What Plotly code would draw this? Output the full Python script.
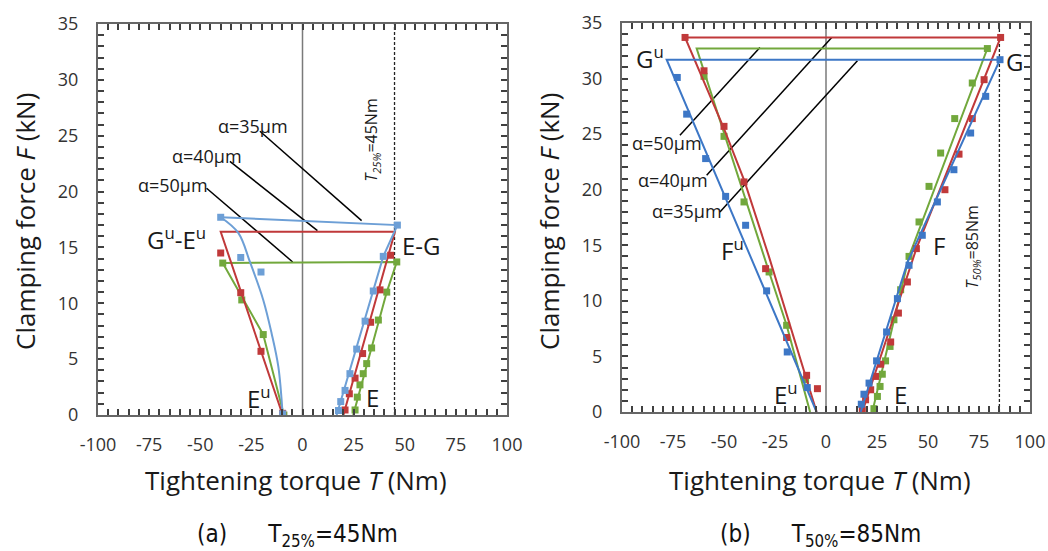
import plotly.graph_objects as go

# ---------------- data ----------------
# Panel (a) T25% = 45 Nm
a35_fit_T = [-9.7, -11.8, -15.1, -19.2, -25.7, -31.4, -40.0, 46.4, 39.5, 16.7]
a35_fit_F = [0.0, 4.3, 7.3, 10.3, 13.7, 16.3, 17.7, 17.0, 14.2, 0.0]
a35_pts_T = [-40.0, -30.2, -20.3, -9.7, 46.4, 39.5, 34.6, 30.6, 26.5, 23.2, 20.8, 18.7, 17.6]
a35_pts_F = [17.7, 14.1, 12.8, 0.1, 17.0, 14.2, 11.1, 8.4, 5.9, 3.7, 2.2, 1.2, 0.4]

a40_fit_T = [-9.7, -40.0, 45.2, 20.0]
a40_fit_F = [0.0, 16.4, 16.4, 0.0]
a40_pts_T = [-9.7, -20.3, -30.2, -40.0, 43.1, 37.9, 33.3, 29.4, 25.7, 22.9, 20.8]
a40_pts_F = [0.15, 5.7, 10.95, 14.5, 14.3, 11.2, 8.3, 5.5, 3.3, 1.9, 0.45]

a50_fit_T = [-9.1, -19.2, -39.0, 46.1, 41.2, 24.8]
a50_fit_F = [0.0, 7.2, 13.6, 13.7, 11.0, 0.0]
a50_pts_T = [-9.1, -19.2, -29.7, -39.0, 46.1, 41.2, 37.1, 33.8, 31.4, 29.7, 28.1, 26.8, 25.7]
a50_pts_F = [0.0, 7.2, 10.3, 13.6, 13.7, 11.0, 8.5, 6.0, 4.6, 3.7, 2.7, 1.6, 0.45]

# Panel (b) T50% = 85 Nm
b35_fit_T = [-4.6, -78.1, 85.3, 40.0, 17.0]
b35_fit_F = [0.0, 31.7, 31.7, 13.5, 0.0]
b35_pts_T = [-72.9, -68.3, -59.0, -49.2, -39.4, -29.1, -19.0, -9.2,
             85.3, 78.3, 70.9, 62.7, 54.6, 47.2, 40.7, 35.0, 29.7, 24.8, 21.1, 18.6, 17.3]
b35_pts_F = [30.1, 26.8, 22.8, 19.4, 16.8, 10.9, 5.4, 2.2,
             31.7, 28.4, 25.1, 21.8, 18.9, 15.9, 13.2, 10.2, 7.2, 4.6, 2.6, 1.6, 0.7]

b40_fit_T = [-4.6, -28.0, -40.0, -50.0, -69.1, 85.6, 44.3, 17.8]
b40_fit_F = [0.0, 14.0, 20.8, 25.5, 33.7, 33.7, 14.7, 0.0]
b40_pts_T = [-69.1, -59.8, -50.0, -40.2, -29.6, -19.3, -9.5, -4.2,
             85.6, 77.5, 71.7, 65.2, 58.3, 44.3, 39.9, 35.5, 31.7, 26.8, 24.3, 21.9, 19.4, 17.8]
b40_pts_F = [33.7, 30.7, 25.7, 20.7, 12.9, 6.7, 3.3, 2.1,
             33.7, 29.9, 26.4, 23.2, 20.0, 14.7, 11.7, 8.9, 6.3, 4.3, 3.2, 2.0, 1.1, 0.2]

b50_fit_T = [-7.8, -19.3, -27.9, -63.4, 79.1, 40.7, 22.7]
b50_fit_F = [0.0, 7.8, 12.6, 32.7, 32.7, 14.0, 0.0]
b50_pts_T = [-59.8, -50.0, -40.2, -27.9, -19.3, -10.0,
             79.1, 71.7, 63.1, 56.2, 50.5, 45.6, 40.7, 36.6, 33.3, 31.4, 29.2, 27.6, 26.5, 25.2, 23.5]
b50_pts_F = [30.2, 24.8, 18.9, 12.6, 7.8, 2.9,
             32.7, 29.6, 26.4, 23.3, 20.3, 17.1, 14.0, 11.0, 8.3, 5.9, 4.6, 3.4, 2.3, 1.4, 0.3]

# leader lines  [T_start, F_start, T_end, F_end]
a_leaders = {"α=35μm": [-20.8, 25.4, 28.9, 17.4],
             "α=40μm": [-35.5, 22.7, 7.3, 16.5],
             "α=50μm": [-46.9, 20.3, -4.8, 13.7]}
b_leaders = {"α=50μm": [-71.6, 24.9, -32.4, 32.8],
             "α=40μm": [-58.5, 21.3, 2.8, 33.7],
             "α=35μm": [-52.0, 18.0, 15.4, 31.6]}

x_ticks = [-100, -75, -50, -25, 0, 25, 50, 75, 100]
y_ticks = [0, 5, 10, 15, 20, 25, 30, 35]
x_minor_step = 5
y_minor_step = 1
T_limit_a = 45
T_limit_b = 85

# ---------------- styling ----------------
RED = "#c0393a"
GREEN = "#72a83c"
BLUE_A = "#6d9fd6"
BLUE_B = "#3d77c6"
W, H = 1048, 551
FONT = "Open Sans, Noto Sans, sans-serif"
TICKC = "#404040"

fig = go.Figure()


def add_line(xa, ya, T, F, color, shape="linear"):
    fig.add_trace(go.Scatter(x=T, y=F, mode="lines", xaxis=xa, yaxis=ya,
                             line=dict(color=color, width=2, shape=shape, smoothing=1.0),
                             showlegend=False, hoverinfo="skip"))


def add_pts(xa, ya, T, F, color):
    fig.add_trace(go.Scatter(x=T, y=F, mode="markers", xaxis=xa, yaxis=ya,
                             marker=dict(symbol="square", size=7, color=color),
                             showlegend=False))


def add_leaders(xa, ya, leaders):
    for k, (t0, f0, t1, f1) in leaders.items():
        fig.add_trace(go.Scatter(x=[t0, t1], y=[f0, f1], mode="lines", xaxis=xa, yaxis=ya,
                                 line=dict(color="black", width=1.5), showlegend=False,
                                 hoverinfo="skip"))


def add_vlines(xa, ya, tlim):
    fig.add_trace(go.Scatter(x=[0, 0], y=[y_ticks[0], y_ticks[-1]], mode="lines",
                             xaxis=xa, yaxis=ya, line=dict(color="#7a7a7a", width=1.5),
                             showlegend=False, hoverinfo="skip"))
    fig.add_trace(go.Scatter(x=[tlim, tlim], y=[y_ticks[0], y_ticks[-1]], mode="lines",
                             xaxis=xa, yaxis=ya,
                             line=dict(color="#222222", width=1.3, dash="3px,2px"),
                             showlegend=False, hoverinfo="skip"))


# panel (a)
add_vlines("x", "y", T_limit_a)
add_leaders("x", "y", a_leaders)
add_line("x", "y", a50_fit_T, a50_fit_F, GREEN)
add_pts("x", "y", a50_pts_T, a50_pts_F, GREEN)
add_line("x", "y", a40_fit_T, a40_fit_F, RED)
add_pts("x", "y", a40_pts_T, a40_pts_F, RED)
# blue unloading branch is a smooth curve (first 7 points), rest straight
add_line("x", "y", a35_fit_T[:7], a35_fit_F[:7], BLUE_A, shape="spline")
add_line("x", "y", a35_fit_T[6:], a35_fit_F[6:], BLUE_A)
add_pts("x", "y", a35_pts_T, a35_pts_F, BLUE_A)

# panel (b)
add_vlines("x2", "y2", T_limit_b)
add_leaders("x2", "y2", b_leaders)
add_line("x2", "y2", b50_fit_T, b50_fit_F, GREEN)
add_pts("x2", "y2", b50_pts_T, b50_pts_F, GREEN)
add_line("x2", "y2", b40_fit_T, b40_fit_F, RED)
add_pts("x2", "y2", b40_pts_T, b40_pts_F, RED)
add_line("x2", "y2", b35_fit_T, b35_fit_F, BLUE_B)
add_pts("x2", "y2", b35_pts_T, b35_pts_F, BLUE_B)

# axes: every minor step gets an inside tick on all four sides; labels only at major values
x_all = list(range(x_ticks[0], x_ticks[-1] + 1, x_minor_step))
y_all = list(range(y_ticks[0], y_ticks[-1] + 1, y_minor_step))
axis_common = dict(
    showgrid=False, zeroline=False, showline=True, linecolor="#666666", linewidth=2,
    mirror="allticks", ticks="inside", ticklen=6, tickwidth=2, tickcolor=TICKC,
    tickfont=dict(family=FONT, size=18, color="#333333"), automargin=False,
)
xaxis_common = dict(axis_common, range=[x_ticks[0], x_ticks[-1]], tickmode="array",
                    tickvals=x_all,
                    ticktext=[str(v) if v in x_ticks else "" for v in x_all],
                    ticklabelstandoff=12)
yaxis_common = dict(axis_common, range=[y_ticks[0], y_ticks[-1]], tickmode="array",
                    tickvals=y_all,
                    ticktext=[str(v) if v in y_ticks else "" for v in y_all],
                    ticklabelstandoff=14)

fig.update_layout(
    template="none",
    width=W, height=H, margin=dict(l=0, r=0, t=0, b=0, pad=0),
    paper_bgcolor="white", plot_bgcolor="white",
    xaxis=dict(xaxis_common, domain=[98 / W, 507 / W], anchor="y"),
    yaxis=dict(yaxis_common, domain=[1 - 415 / H, 1 - 24 / H], anchor="x"),
    xaxis2=dict(xaxis_common, domain=[622 / W, 1030 / W], anchor="y2"),
    yaxis2=dict(yaxis_common, domain=[1 - 412 / H, 1 - 23 / H], anchor="x2"),
)

ann = []


def txt(xr, yr, x, y, text, size, angle=0, family=FONT, color="#1a1a1a"):
    ann.append(dict(xref=xr, yref=yr, x=x, y=y, text=text, showarrow=False,
                    xanchor="center", yanchor="middle", textangle=angle,
                    font=dict(family=family, size=size, color=color)))


# panel (a) labels
for k, pos in {"α=35μm": (-24.2, 25.9), "α=40μm": (-46.9, 23.2), "α=50μm": (-63.2, 20.6)}.items():
    txt("x", "y", pos[0], pos[1], k, 18)
txt("x", "y", -61.5, 15.8, "G<sup>u</sup>-E<sup>u</sup>", 24)
txt("x", "y", 58.3, 15.2, "E-G", 24)
txt("x", "y", -21.1, 1.6, "E<sup>u</sup>", 24)
txt("x", "y", 34.3, 1.6, "E", 24)
txt("x", "y", 33.8, 24.6, "<i>T</i><sub><i>25%</i></sub>=45Nm", 16, -90)

# panel (b) labels
for k, pos in {"α=50μm": (-78.1, 24.2), "α=40μm": (-74.9, 20.9), "α=35μm": (-68.3, 18.1)}.items():
    txt("x2", "y2", pos[0], pos[1], k, 18)
txt("x2", "y2", -86.3, 31.9, "G<sup>u</sup>", 24)
txt("x2", "y2", 92.2, 31.5, "G", 24)
txt("x2", "y2", -45.9, 14.6, "F<sup>u</sup>", 24)
txt("x2", "y2", 55.4, 15.0, "F", 24)
txt("x2", "y2", -19.8, 1.7, "E<sup>u</sup>", 24)
txt("x2", "y2", 36.6, 1.6, "E", 24)
txt("x2", "y2", 71.7, 14.9, "<i>T</i><sub><i>50%</i></sub>=85Nm", 16, -90)

# axis titles
for cx in (25, 549):
    txt("paper", "paper", cx / W, 1 - 222 / H, "Clamping force <i>F</i> (kN)", 26, -90)
for cx in (296, 820):
    txt("paper", "paper", cx / W, 1 - 480 / H, "Tightening torque <i>T</i> (Nm)", 26)

# captions
CAP_FONT = "Liberation Sans Narrow, DejaVu Sans Condensed, sans-serif"
for cx, text in ((297, "(a)&nbsp;&nbsp;&nbsp;&nbsp;&nbsp;&nbsp;T<sub>25%</sub>=45Nm"),
                 (820, "(b)&nbsp;&nbsp;&nbsp;&nbsp;&nbsp;&nbsp;T<sub>50%</sub>=85Nm")):
    txt("paper", "paper", cx / W, 1 - 535 / H, text, 24, family=CAP_FONT, color="#111111")

fig.update_layout(annotations=ann)
fig.write_html("out.html", config={"displayModeBar": False},
               post_script="document.body.style.margin='0';document.body.style.overflow='hidden';")
